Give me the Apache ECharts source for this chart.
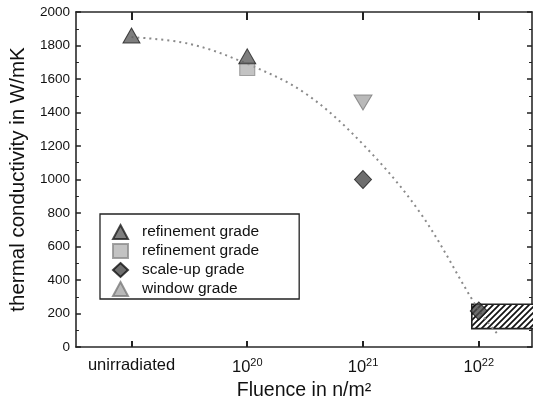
<!DOCTYPE html>
<html>
<head>
<meta charset="utf-8">
<script src="https://cdn.jsdelivr.net/npm/echarts@6/dist/echarts.min.js"></script>
<style>
  html, body { margin: 0; padding: 0; background: #fff; }
  #chart { width: 534px; height: 409px; }
</style>
</head>
<body>
<div id="chart"></div>
<script>
// Fluence positions (log10 of n/m^2; 19 stands for the unirradiated reference)
const fluenceTicks = [19, 20, 21, 22];
const fluenceLabels = ['unirradiated', '10|20', '10|21', '10|22'];

// Thermal conductivity in W/mK per grade
const refinementTri = [[19, 1860], [20, 1735]];
const refinementSq = [[20, 1660]];
const scaleUp = [[21, 1000], [22, 215]];
const windowGrade = [[21, 1460]];

// Dotted trend curve
const trendCurve = [
  [19, 1850], [19.5, 1810], [20, 1690], [20.5, 1515],
  [21, 1210], [21.5, 795], [22, 220], [22.16, 80]
];

// Hatched band: [xStart, xEnd, yLow, yHigh]
const hatchBand = [[21.94, 22.8, 110, 255]];

const FONT = '"Liberation Sans", Arial, sans-serif';

// diagonal hatch fill
const hc = document.createElement('canvas');
hc.width = 6; hc.height = 6;
const g = hc.getContext('2d');
g.fillStyle = '#fff';
g.fillRect(0, 0, 6, 6);
g.strokeStyle = '#111';
g.lineWidth = 1.7;
g.beginPath();
g.moveTo(-1, 7); g.lineTo(7, -1);
g.moveTo(-4, 4); g.lineTo(4, -4);
g.moveTo(2, 10); g.lineTo(10, 2);
g.stroke();
const hatchFill = { image: hc, repeat: 'repeat' };

const chart = echarts.init(document.getElementById('chart'));

function fluenceLabel(v) {
  const i = fluenceTicks.indexOf(Math.round(v));
  if (i < 0) return '';
  const t = fluenceLabels[i];
  if (t.indexOf('|') < 0) return t;
  const parts = t.split('|');
  return '{b|' + parts[0] + '}{s|' + parts[1] + '}';
}

const axisLineStyle = { color: '#2a2a2a', width: 1.6 };

chart.setOption({
  animation: false,
  backgroundColor: '#fff',
  textStyle: { fontFamily: FONT },
  grid: { left: 75, right: 2, top: 12, bottom: 62 },
  xAxis: [
    {
      type: 'value', position: 'bottom', min: 18.52, max: 22.46,
      axisLine: { show: true, onZero: false, lineStyle: axisLineStyle },
      splitLine: { show: false },
      axisTick: { inside: true, length: 6, customValues: fluenceTicks, lineStyle: { color: '#222', width: 2 } },
      axisLabel: {
        customValues: fluenceTicks, formatter: fluenceLabel, margin: 10,
        fontFamily: FONT, fontSize: 16.5, color: '#111',
        rich: {
          b: { fontFamily: FONT, fontSize: 16.5, color: '#111' },
          s: { fontFamily: FONT, fontSize: 11, color: '#111', padding: [0, 0, 10, 0] }
        }
      },
      name: 'Fluence in n/m\u00b2', nameLocation: 'middle', nameGap: 34,
      nameTextStyle: { fontFamily: FONT, fontSize: 19.5, color: '#111' }
    },
    {
      type: 'value', position: 'top', min: 18.52, max: 22.46,
      axisLine: { show: true, onZero: false, lineStyle: axisLineStyle },
      splitLine: { show: false },
      axisTick: { inside: true, length: 8, customValues: fluenceTicks, lineStyle: { color: '#222', width: 2 } },
      axisLabel: { show: false }
    }
  ],
  yAxis: [
    {
      type: 'value', position: 'left', min: 0, max: 2000, interval: 200,
      axisLine: { show: true, onZero: false, lineStyle: axisLineStyle },
      splitLine: { show: false },
      axisTick: { inside: true, length: 5, lineStyle: { color: '#222', width: 1.5 } },
      minorTick: { show: true, splitNumber: 2, length: 3, lineStyle: { color: '#222', width: 1 } },
      axisLabel: { fontFamily: FONT, fontSize: 13.5, color: '#111', margin: 6, formatter: (v) => String(v) },
      name: 'thermal conductivity in W/mK', nameLocation: 'middle', nameGap: 44,
      nameTextStyle: { fontFamily: FONT, fontSize: 20.5, color: '#111' }
    },
    {
      type: 'value', position: 'right', min: 0, max: 2000, interval: 200,
      axisLine: { show: true, onZero: false, lineStyle: axisLineStyle },
      splitLine: { show: false },
      axisTick: { inside: true, length: 5, lineStyle: { color: '#222', width: 1.5 } },
      minorTick: { show: true, splitNumber: 2, length: 3, lineStyle: { color: '#222', width: 1 } },
      axisLabel: { show: false }
    }
  ],
  legend: {
    left: 100, top: 214, orient: 'vertical',
    itemWidth: 15, itemHeight: 14, itemGap: 3,
    padding: [10, 40, 2, 12],
    borderColor: '#222', borderWidth: 1.3,
    textStyle: { fontFamily: FONT, fontSize: 15.5, color: '#111', padding: [0, 0, 0, 9] },
    formatter: (n) => n.trim(),
    data: ['refinement grade', 'refinement grade ', 'scale-up grade', 'window grade']
  },
  series: [
    {
      type: 'custom', name: 'band', clip: true, z: 1,
      encode: { x: [0, 1], y: [2, 3] },
      renderItem: (params, api) => {
        const p0 = api.coord([api.value(0), api.value(3)]);
        const p1 = api.coord([api.value(1), api.value(2)]);
        return {
          type: 'rect',
          shape: { x: p0[0], y: p0[1], width: p1[0] - p0[0], height: p1[1] - p0[1] },
          style: { fill: hatchFill, stroke: '#222', lineWidth: 1.6 }
        };
      },
      data: hatchBand
    },
    {
      type: 'line', name: 'trend', smooth: 0.35, symbol: 'none', z: 2,
      lineStyle: { color: '#8a8a8a', width: 2, type: [2, 4] },
      data: trendCurve
    },
    {
      type: 'scatter', name: 'refinement grade ', z: 3,
      symbol: 'rect', symbolSize: [15, 13],
      itemStyle: { color: '#b4b4b4', borderColor: '#8c8c8c', borderWidth: 1 },
      data: refinementSq
    },
    {
      type: 'scatter', name: 'refinement grade', z: 4,
      symbol: 'triangle', symbolSize: [17, 15],
      itemStyle: { color: '#5e5e5e', borderColor: '#1e1e1e', borderWidth: 1 },
      data: refinementTri
    },
    {
      type: 'scatter', name: 'scale-up grade', z: 4,
      symbol: 'diamond', symbolSize: [17, 18],
      itemStyle: { color: '#4a4a4a', borderColor: '#111', borderWidth: 1 },
      data: scaleUp
    },
    {
      type: 'scatter', name: 'window grade', z: 4,
      symbol: 'triangle', symbolRotate: 180, symbolSize: [18, 15],
      itemStyle: { color: '#a8a8a8', borderColor: '#7a7a7a', borderWidth: 1 },
      data: windowGrade
    }
  ]
});
</script>
</body>
</html>
